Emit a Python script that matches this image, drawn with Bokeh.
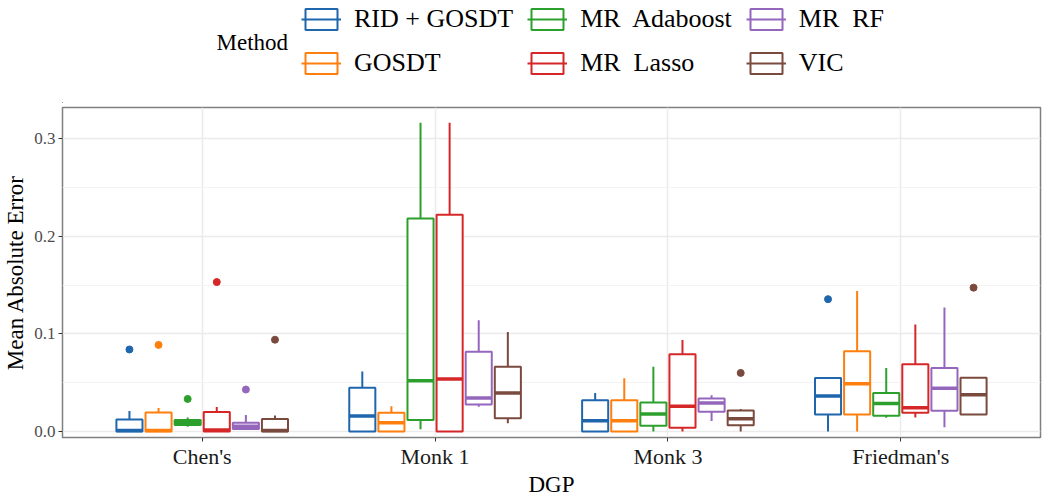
from bokeh.plotting import figure
from bokeh.layouts import column
from bokeh.models import (ColumnDataSource, FixedTicker, Legend, LegendItem, Label,
                          NumeralTickFormatter, Range1d)
from bokeh.transform import dodge
from bokeh.embed import file_html
from bokeh.resources import INLINE

dgps = ["Chen's", "Monk 1", "Monk 3", "Friedman's"]
methods = ["RID + GOSDT", "GOSDT", "MR  Adaboost", "MR  Lasso", "MR  RF", "VIC"]
colors = ["#1f66ad", "#ff7f0e", "#2ca02c", "#d62728", "#9467bd", "#7b4a3f"]

# per method, one value per DGP (Chen's, Monk 1, Monk 3, Friedman's)
whisk_lo = {
    "RID + GOSDT":  [0.0,    0.0,    0.0,    0.0],
    "GOSDT":        [0.0,    0.0,    0.0,    0.0],
    "MR  Adaboost": [0.005,  0.0023, 0.0,    0.0142],
    "MR  Lasso":    [0.0,    0.0,    0.0,    0.0145],
    "MR  RF":       [0.0027, 0.0253, 0.0108, 0.0044],
    "VIC":          [0.0,    0.0084, 0.0,    0.0175],
}
q1 = {
    "RID + GOSDT":  [0.0,    0.0,    0.0,    0.0175],
    "GOSDT":        [0.0,    0.0,    0.0,    0.0175],
    "MR  Adaboost": [0.0068, 0.0118, 0.0058, 0.0162],
    "MR  Lasso":    [0.0,    0.0,    0.004,  0.0192],
    "MR  RF":       [0.0027, 0.0276, 0.0202, 0.0212],
    "VIC":          [0.0,    0.0135, 0.0064, 0.0175],
}
median = {
    "RID + GOSDT":  [0.001,  0.0159, 0.0111, 0.0364],
    "GOSDT":        [0.001,  0.0091, 0.011,  0.0489],
    "MR  Adaboost": [0.0095, 0.0519, 0.0179, 0.0286],
    "MR  Lasso":    [0.0015, 0.0539, 0.026,  0.0243],
    "MR  RF":       [0.0055, 0.0344, 0.0293, 0.0442],
    "VIC":          [0.001,  0.0394, 0.0131, 0.0377],
}
q3 = {
    "RID + GOSDT":  [0.0124, 0.0448, 0.032,  0.0549],
    "GOSDT":        [0.0195, 0.0192, 0.032,  0.0822],
    "MR  Adaboost": [0.0118, 0.218,  0.0297, 0.0394],
    "MR  Lasso":    [0.020,  0.222,  0.0792, 0.069],
    "MR  RF":       [0.009,  0.0816, 0.0337, 0.065],
    "VIC":          [0.0128, 0.0664, 0.0216, 0.055],
}
whisk_hi = {
    "RID + GOSDT":  [0.021,  0.0614, 0.0394, 0.0549],
    "GOSDT":        [0.024,  0.026,  0.0546, 0.1439],
    "MR  Adaboost": [0.0145, 0.316,  0.0664, 0.065],
    "MR  Lasso":    [0.025,  0.316,  0.0937, 0.1095],
    "MR  RF":       [0.017,  0.114,  0.0371, 0.127],
    "VIC":          [0.0165, 0.102,  0.023,  0.055],
}
outlier_dgp = ["Chen's", "Chen's", "Chen's", "Chen's", "Chen's", "Chen's",
               "Monk 3", "Friedman's", "Friedman's"]
outlier_method = ["RID + GOSDT", "GOSDT", "MR  Adaboost", "MR  Lasso", "MR  RF", "VIC",
                  "VIC", "RID + GOSDT", "VIC"]
outlier_value = [0.084, 0.0887, 0.0334, 0.153, 0.043, 0.094, 0.060, 0.1355, 0.1473]

legend_title = "Method"
x_title = "DGP"
y_title = "Mean Absolute Error"

FONT = "Liberation Serif"
W = 1044
HEAD_H = 103
MAIN_H = 396
slot = 0.125
box_w = 0.112

dgp_pos = {d: i + 1 for i, d in enumerate(dgps)}

# ---------------- main panel ----------------
p = figure(width=W, height=MAIN_H, output_backend="svg", toolbar_location=None,
           x_range=Range1d(0.4, len(dgps) + 0.6),
           y_range=Range1d(-0.0061, 0.3317),
           min_border_left=0, min_border_right=4, min_border_top=4, min_border_bottom=0)

for i, m in enumerate(methods):
    off = (i - 2.5) * slot
    src = ColumnDataSource(dict(xpos=[dgp_pos[d] for d in dgps], lo=whisk_lo[m], q1=q1[m],
                                med=median[m], q3=q3[m], hi=whisk_hi[m]))
    xd = dodge("xpos", off)
    c = colors[i]
    p.segment(x0=xd, x1=xd, y0="q3", y1="hi", source=src, line_color=c, line_width=2)
    p.segment(x0=xd, x1=xd, y0="lo", y1="q1", source=src, line_color=c, line_width=2)
    p.vbar(x=xd, width=box_w, bottom="q1", top="q3", source=src,
           fill_color="white", line_color=c, line_width=2)
    p.segment(x0=dodge("xpos", off - box_w / 2), x1=dodge("xpos", off + box_w / 2),
              y0="med", y1="med", source=src, line_color=c, line_width=3.5)
    o_x = [dgp_pos[d] for d, mm in zip(outlier_dgp, outlier_method) if mm == m]
    o_y = [v for v, mm in zip(outlier_value, outlier_method) if mm == m]
    if o_x:
        osrc = ColumnDataSource(dict(xpos=o_x, val=o_y))
        p.scatter(x=dodge("xpos", off), y="val", source=osrc, size=7,
                  fill_color=c, line_color=c)

p.xaxis.ticker = FixedTicker(ticks=[dgp_pos[d] for d in dgps])
p.xaxis.major_label_overrides = {dgp_pos[d]: d for d in dgps}
p.yaxis.ticker = FixedTicker(ticks=[0.0, 0.1, 0.2, 0.3], minor_ticks=[0.05, 0.15, 0.25])
p.yaxis.formatter = NumeralTickFormatter(format="0.0")
p.yaxis.axis_label = y_title
p.xaxis.axis_label = x_title
for ax in (p.xaxis, p.yaxis):
    ax.axis_line_color = None
    ax.major_tick_out = 4
    ax.major_tick_in = 0
    ax.minor_tick_out = 0
    ax.minor_tick_in = 0
    ax.major_tick_line_color = "#333333"
    ax.major_tick_line_width = 1
    ax.major_label_text_font = FONT
    ax.axis_label_text_font = FONT
    ax.axis_label_text_font_style = "normal"
    ax.axis_label_text_font_size = "23px"
    ax.axis_label_text_color = "black"
p.yaxis.major_label_text_font_size = "17px"
p.yaxis.major_label_text_color = "#4d4d4d"
p.yaxis.major_label_standoff = 3
p.yaxis.axis_label_standoff = 3
p.xaxis.major_label_text_font_size = "22px"
p.xaxis.major_label_text_color = "#1a1a1a"
p.xaxis.major_label_standoff = 2
p.xaxis.axis_label_standoff = 0

p.xgrid.grid_line_color = "#ebebeb"
p.xgrid.grid_line_width = 1.5
p.ygrid.grid_line_color = "#ebebeb"
p.ygrid.grid_line_width = 1.5
p.ygrid.minor_grid_line_color = "#f3f3f3"
p.ygrid.minor_grid_line_width = 1

p.outline_line_color = "#7f7f7f"
p.outline_line_width = 1.5
p.background_fill_color = "white"
p.border_fill_color = "white"

# ---------------- legend header ----------------
h = figure(width=W, height=HEAD_H, output_backend="svg", toolbar_location=None,
           x_range=Range1d(0, 1), y_range=Range1d(0, 1),
           x_axis_location=None, y_axis_location=None,
           min_border=0, min_border_left=0, min_border_right=0,
           min_border_top=0, min_border_bottom=0)
h.grid.visible = False
h.outline_line_color = None
h.background_fill_color = "white"
h.border_fill_color = "white"

items = []
for i, m in enumerate(methods):
    c = colors[i]
    offscreen = ColumnDataSource(dict(x=[-1000], y0=[-1000], y1=[-999]))
    br = h.vbar(x="x", width=1, bottom="y0", top="y1", source=offscreen,
                fill_color="white", line_color=c, line_width=2)
    mr = h.segment(x0="x", x1="x", y0="y0", y1="y1", source=offscreen,
                   line_color=c, line_width=2)
    items.append(LegendItem(label=m, renderers=[br, mr]))

legend = Legend(items=items, orientation="vertical", nrows=2,
                location=(239, 25), glyph_width=40, glyph_height=26, label_standoff=13,
                spacing=14, padding=0, margin=0, border_line_color=None,
                background_fill_alpha=0,
                label_text_font=FONT, label_text_font_size="26px", label_text_color="black")
h.add_layout(legend, "center")

h.add_layout(Label(x=154, y=61, x_units="screen", y_units="screen", text=legend_title,
                   text_font=FONT, text_font_size="23px", text_baseline="middle",
                   text_align="left", text_color="black"))

layout = column(h, p, spacing=0)
open("out.html", "w").write(file_html(layout, INLINE))
